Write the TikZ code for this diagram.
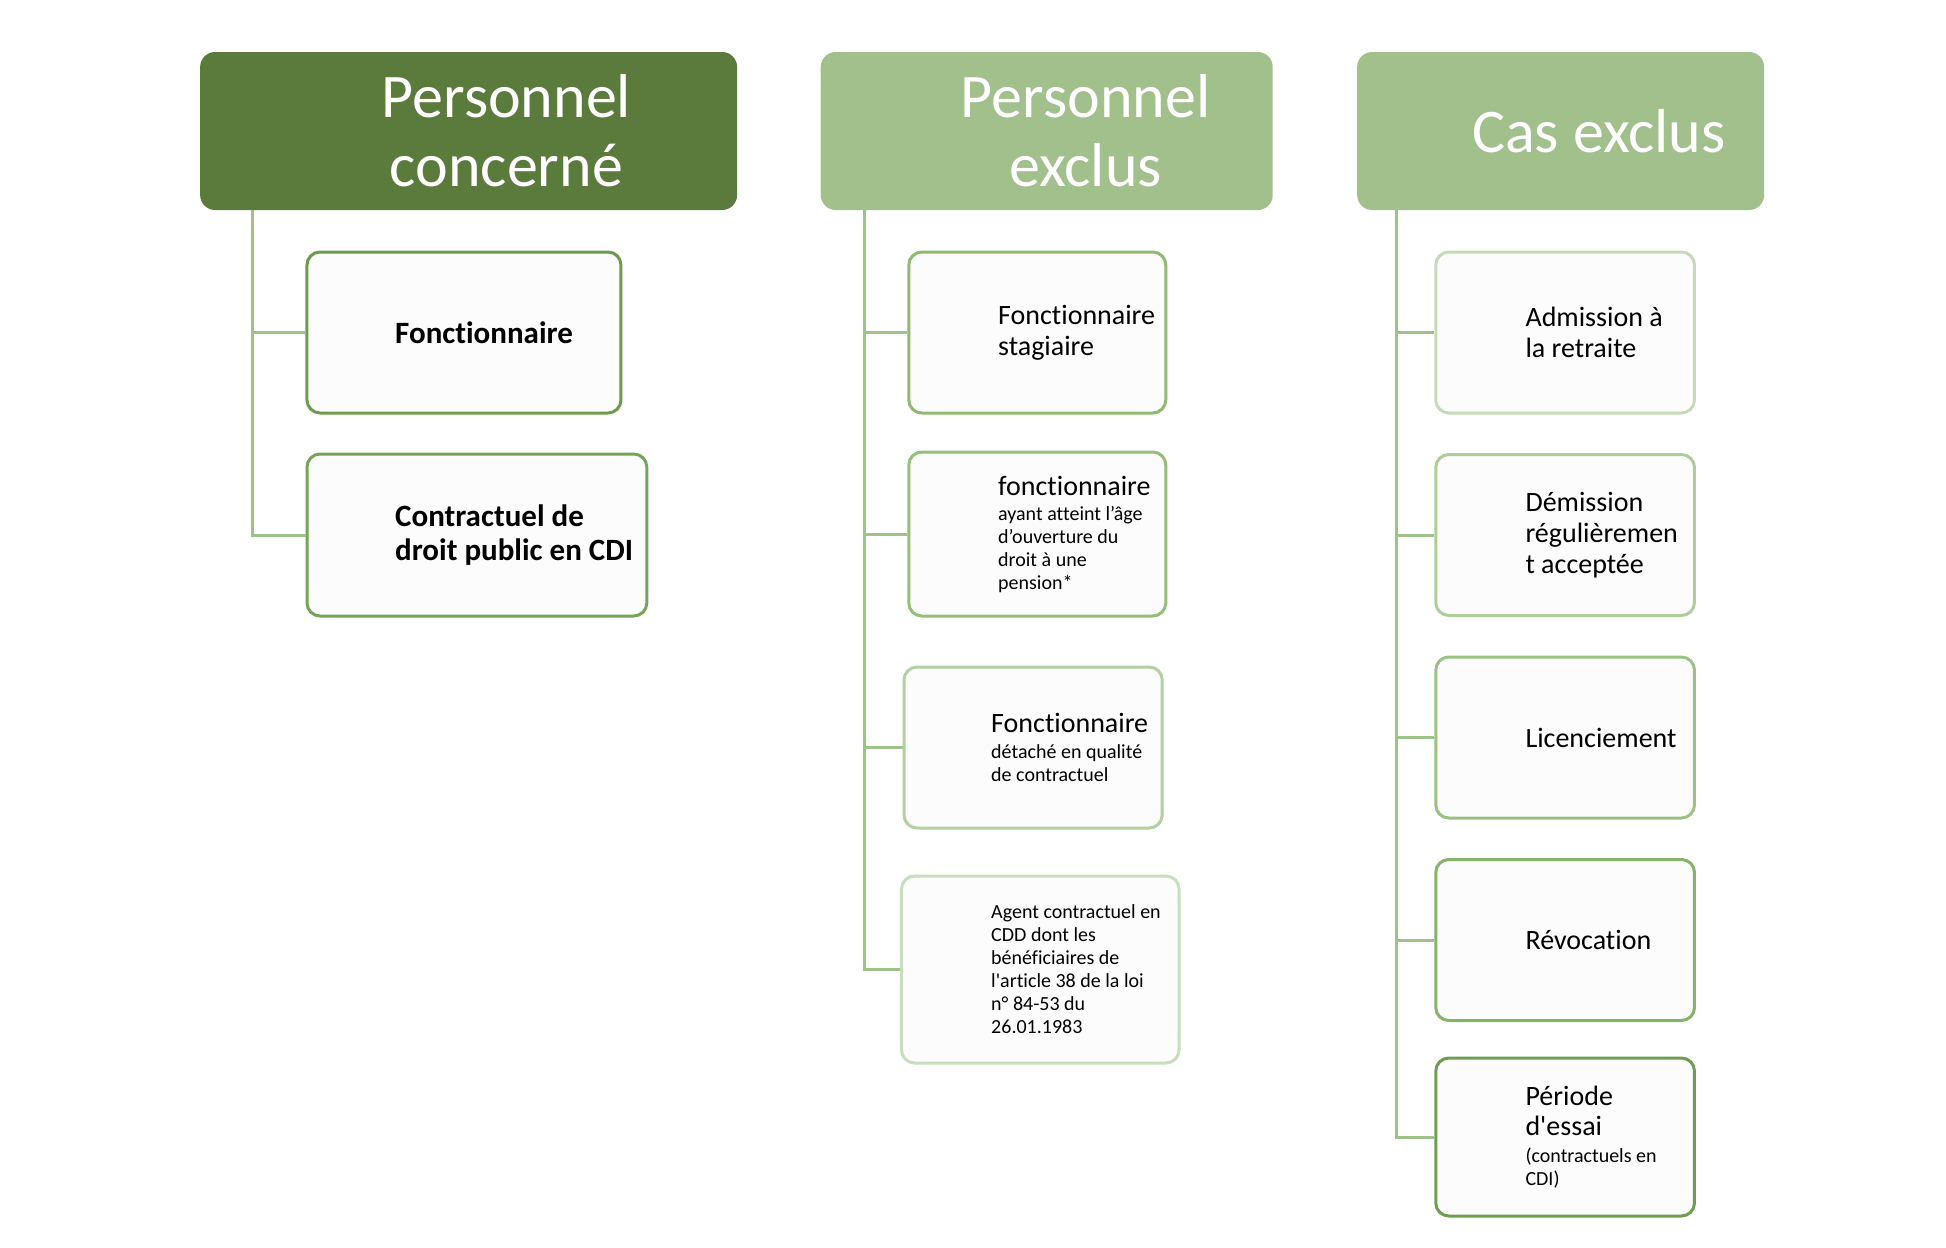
\documentclass[tikz,border=0pt]{standalone}
\usepackage{fontspec}
\setmainfont{Carlito}[Ligatures={CommonOff,TeXOff}]
\definecolor{headdark}{HTML}{5B7B3C}
\definecolor{headlight}{HTML}{A2C08C}
\definecolor{linkgreen}{HTML}{9DC28A}
\definecolor{boxfill}{HTML}{FCFCFC}
\definecolor{pcA}{HTML}{6B9B4B}
\definecolor{pcB}{HTML}{75A556}
\definecolor{peA}{HTML}{8EBB70}
\definecolor{peB}{HTML}{94BF78}
\definecolor{peC}{HTML}{B3D0A2}
\definecolor{peD}{HTML}{C8DEBC}
\definecolor{ceA}{HTML}{C4DBB5}
\definecolor{ceB}{HTML}{AFCD9B}
\definecolor{ceC}{HTML}{9BC282}
\definecolor{ceD}{HTML}{85B468}
\definecolor{ceE}{HTML}{6E9F50}
\newcommand{\largetxt}{\fontsize{28}{31}\selectfont}
\newcommand{\smalltxt}{\fontsize{20}{23}\selectfont}
\begin{document}
\begin{tikzpicture}[x=0.995pt,y=-1pt,
  head node/.style={rectangle,rounded corners=15pt,inner sep=0pt,minimum height=158pt},
  item node/.style={rectangle,draw,line width=3pt,rounded corners=13pt,fill=boxfill,inner sep=0pt,minimum height=161pt},
  head text/.style={text=white,align=center,inner sep=0pt,font=\fontsize{62}{69}\selectfont},
  item text/.style={align=left,anchor=west,inner sep=0pt,font=\largetxt},
  link/.style={draw=linkgreen,line width=3pt}]

  \useasboundingbox (0,0) rectangle (1955.8,1248);

  % headers
  \node[head node,fill=headdark,minimum width=537pt] (h1) at (471,131) {};
  \node[head node,fill=headlight,minimum width=452pt] (h2) at (1052,131) {};
  \node[head node,fill=headlight,minimum width=407pt] (h3) at (1568.5,131) {};
  \node[head text] (h1t) at (509,131) {Personnel\\concerné};
  \node[head text] (h2t) at (1091,131) {Personnel\\exclus};
  \node[head text] (h3t) at (1607,131) {Cas exclus};

  % personnel concerne
  \node[item node,draw=pcA,minimum width=314pt] (pc1) at (466.3,332.5) {};
  \node[item node,draw=pcB,minimum width=339.8pt,minimum height=162pt] (pc2) at (479.3,535) {};
  \node[item text,font=\fontsize{31}{34}\selectfont\bfseries] (pc1t) at (397,332.5) {Fonctionnaire};
  \node[item text,font=\fontsize{31}{34}\selectfont\bfseries] (pc2t) at (397,535) {Contractuel de\\droit public en CDI};

  % personnel exclus
  \node[item node,draw=peA,minimum width=257pt] (pe1) at (1042.5,332.5) {};
  \node[item node,draw=peB,minimum width=257pt,minimum height=164pt] (pe2) at (1042.5,534) {};
  \node[item node,draw=peC,minimum width=258.2pt] (pe3) at (1038.3,747.5) {};
  \node[item node,draw=peD,minimum width=277.6pt,minimum height=187pt] (pe4) at (1045.5,969.5) {};
  \node[item text] (pe1t) at (1003,332.5) {Fonctionnaire\\stagiaire};
  \node[item text,font=\smalltxt] (pe2t) at (1003,534)
    {\largetxt fonctionnaire\\[2pt]\smalltxt ayant atteint l’âge\\\smalltxt d’ouverture du\\\smalltxt droit à une\\\smalltxt pension*};
  \node[item text,font=\smalltxt] (pe3t) at (996,747.5)
    {\largetxt Fonctionnaire\\[3pt]\smalltxt détaché en qualité\\\smalltxt de contractuel};
  \node[item text,font=\smalltxt] (pe4t) at (996,969.5)
    {Agent contractuel en\\CDD dont les\\bénéficiaires de\\l'article 38 de la loi\\n° 84-53 du\\26.01.1983};

  % cas exclus
  \node[item node,draw=ceA,minimum width=258.7pt] (ce1) at (1573,332.5) {};
  \node[item node,draw=ceB,minimum width=258.7pt] (ce2) at (1573,535) {};
  \node[item node,draw=ceC,minimum width=258.7pt] (ce3) at (1573,737.5) {};
  \node[item node,draw=ceD,minimum width=258.7pt] (ce4) at (1573,940) {};
  \node[item node,draw=ceE,minimum width=258.7pt,minimum height=158pt] (ce5) at (1573,1137) {};
  \node[item text] (ce1t) at (1533,332.5) {Admission à\\la retraite};
  \node[item text] (ce2t) at (1533,535) {Démission\\régulièremen\\t acceptée};
  \node[item text] (ce3t) at (1533,737.5) {Licenciement};
  \node[item text] (ce4t) at (1533,940) {Révocation};
  \node[item text,font=\smalltxt] (ce5t) at (1533,1137)
    {\largetxt Période\\[7pt]\largetxt d'essai\\[4pt]\smalltxt (contractuels en\\\smalltxt CDI)};

  % connectors
  \draw[link] ([xshift=52.8pt]h1.south west) |- (pc1.west);
  \draw[link] ([xshift=52.8pt]h1.south west) |- (pc2.west);
  \foreach \n in {pe1,pe2,pe3,pe4}
    \draw[link] ([xshift=43.5pt]h2.south west) |- (\n.west);
  \foreach \n in {ce1,ce2,ce3,ce4,ce5}
    \draw[link] ([xshift=40pt]h3.south west) |- (\n.west);
\end{tikzpicture}
\end{document}
